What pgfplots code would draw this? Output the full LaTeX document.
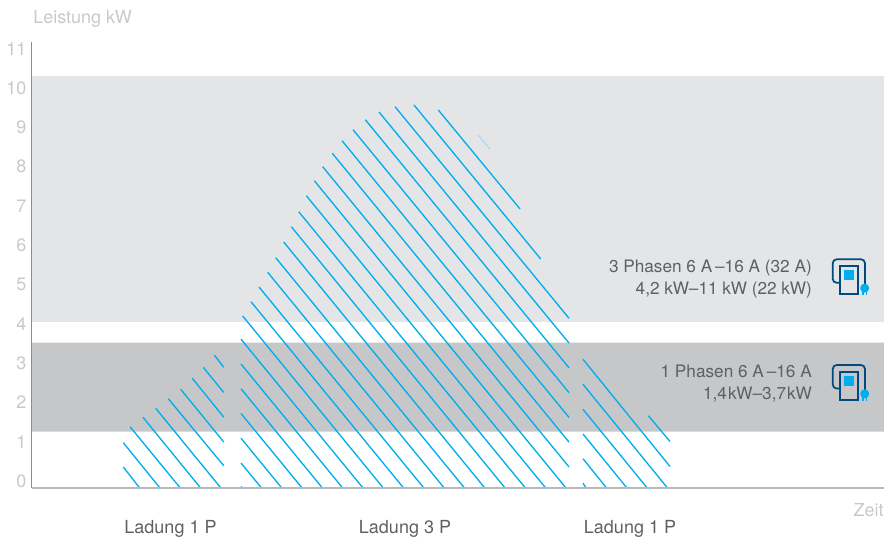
\documentclass[border=0pt]{standalone}
\usepackage{fontspec}
\setmainfont{TeX Gyre Heros}
\usepackage{pgfplots}
\pgfplotsset{compat=1.18}

\definecolor{bandlight}{HTML}{E4E5E7}
\definecolor{banddark}{HTML}{C6C7C9}
\definecolor{hatch}{HTML}{00AEEF}
\definecolor{labelgrey}{HTML}{C8C9CB}
\definecolor{textgrey}{HTML}{5F6062}
\definecolor{icondark}{HTML}{004A80}

% wallbox icon, origin at top left of the cable loop, units are pixels
\newcommand{\wallbox}[2]{%
  \begin{scope}[shift={(#1,#2)}]
    \draw[icondark,line width=1.3pt,rounded corners=3pt] (7,23.5) -- (0,23.5) -- (0,0) -- (32.3,0) -- (32.3,26);
    \draw[icondark,line width=1.3pt] (7.2,6.7) rectangle (25,35);
    \fill[hatch] (11.3,10.7) rectangle (21.6,20.7);
    \fill[hatch] (32,28.8) circle (4.5);
    \fill[hatch] (29.6,32) rectangle (31,35.7);
    \fill[hatch] (33.3,32) rectangle (34.7,35.7);
  \end{scope}}

\begin{document}
\begin{tikzpicture}
\path[use as bounding box] (0,0) rectangle (663pt,404.25pt);
\begin{axis}[
  at={(24pt,38.25pt)},
  anchor=south west,
  scale only axis,
  width=639pt,
  height=334.5pt,
  xmin=32, xmax=884,
  ymin=-0.178, ymax=11.170,
  axis x line*=bottom,
  axis y line*=left,
  axis on top,
  unbounded coords=jump,
  x axis line style={draw=black!28,line width=0.8pt,-},
  y axis line style={draw=black!45,line width=0.75pt,-},
  major tick length=0pt,
  xtick={170.5,405,630},
  xticklabels={Ladung 1 P,Ladung 3 P,Ladung 1 P},
  ytick={0,1,2,3,4,5,6,7,8,9,10,11},
  /pgf/number format/assume math mode=true,
  x tick label style={font=\fontsize{13.5}{15}\selectfont,text=textgrey,anchor=base,yshift=-34pt},
  y tick label style={font=\fontsize{13.5}{15}\selectfont,text=labelgrey,inner xsep=4pt},
  xlabel={Zeit},
  ylabel={Leistung kW},
  every axis x label/.style={at={(rel axis cs:1,0)},anchor=base east,inner sep=0pt,yshift=-21.5pt,font=\fontsize{13.5}{15}\selectfont,text=labelgrey},
  every axis y label/.style={at={(rel axis cs:0,1)},anchor=base west,inner sep=0pt,xshift=0.75pt,yshift=14pt,font=\fontsize{13.5}{15}\selectfont,text=labelgrey},
  clip=false,
]
% power bands
\addplot[fill=bandlight,draw=none] coordinates {(32,4.046) (884,4.046) (884,10.305) (32,10.305)} \closedcycle;
\addplot[fill=banddark,draw=none] coordinates {(32,1.254) (884,1.254) (884,3.519) (32,3.519)} \closedcycle;

% first charge, 1 phase
\addplot[hatch,line width=1pt] table {
123.3 0.356
139.7 -0.178
nan nan
123.3 0.975
160.0 -0.178
nan nan
130.0 1.382
180.3 -0.178
nan nan
143.0 1.621
200.6 -0.178
nan nan
155.7 1.850
220.9 -0.178
nan nan
168.3 2.094
223.7 0.389
nan nan
180.7 2.333
223.7 0.995
nan nan
192.3 2.613
223.7 1.626
nan nan
203.3 2.893
223.7 2.254
nan nan
214.3 3.206
223.7 2.893
};
% charge, 3 phases
\addplot[hatch,line width=1pt] table {
241.0 -0.140
242.0 -0.178
nan nan
241.0 0.458
261.5 -0.178
nan nan
241.0 1.089
281.8 -0.178
nan nan
241.0 1.718
302.1 -0.178
nan nan
241.0 2.349
322.4 -0.178
nan nan
241.0 2.977
342.7 -0.178
nan nan
241.0 3.608
363.0 -0.178
nan nan
242.7 4.198
383.3 -0.178
nan nan
251.0 4.562
403.6 -0.178
nan nan
259.0 4.936
423.9 -0.178
nan nan
267.7 5.310
444.2 -0.178
nan nan
275.7 5.682
464.5 -0.178
nan nan
283.7 6.081
484.8 -0.178
nan nan
291.3 6.471
505.1 -0.178
nan nan
298.7 6.852
525.4 -0.178
nan nan
306.3 7.260
545.7 -0.178
nan nan
314.3 7.641
566.0 -0.178
nan nan
322.7 7.997
569.0 0.359
nan nan
332.3 8.338
569.0 0.990
nan nan
342.0 8.659
569.0 1.618
nan nan
353.0 8.939
569.0 2.249
nan nan
365.3 9.193
569.0 2.880
nan nan
379.0 9.389
569.0 3.509
nan nan
395.0 9.524
569.0 4.140
nan nan
414.0 9.567
540.7 5.649
nan nan
438.3 9.440
520.0 6.921
};
\addplot[hatch!50,line width=0.5pt] coordinates {(478.3,8.804) (490.0,8.440)};
% last charge, 1 phase
\addplot[hatch,line width=1pt] table {
583.0 -0.059
586.3 -0.178
nan nan
583.0 0.567
606.6 -0.178
nan nan
583.0 1.196
626.9 -0.178
nan nan
583.0 1.824
647.2 -0.178
nan nan
583.0 2.461
667.5 -0.178
nan nan
583.0 3.097
670.0 0.369
nan nan
648.3 1.662
670.0 1.005
};
\end{axis}

% notes and icons, placed in pixels of the reference
\begin{scope}[x=0.75pt,y=-0.75pt,yshift=404.25pt]
  \node[anchor=east,inner sep=0pt,align=right,text=textgrey,font=\fontsize{12.9}{16.5}\selectfont] at (812,279.5)
    {3 Phasen 6 A\,–16 A (32 A)\\4,2 kW–11 kW (22 kW)};
  \node[anchor=east,inner sep=0pt,align=right,text=textgrey,font=\fontsize{12.9}{16.5}\selectfont] at (812,383.5)
    {1 Phasen 6 A\,–16 A\\1,4\hspace{0.06em}kW–3,7\hspace{0.06em}kW};
  \wallbox{832.7}{259.3}
  \wallbox{832.7}{365}
\end{scope}
\end{tikzpicture}
\end{document}
